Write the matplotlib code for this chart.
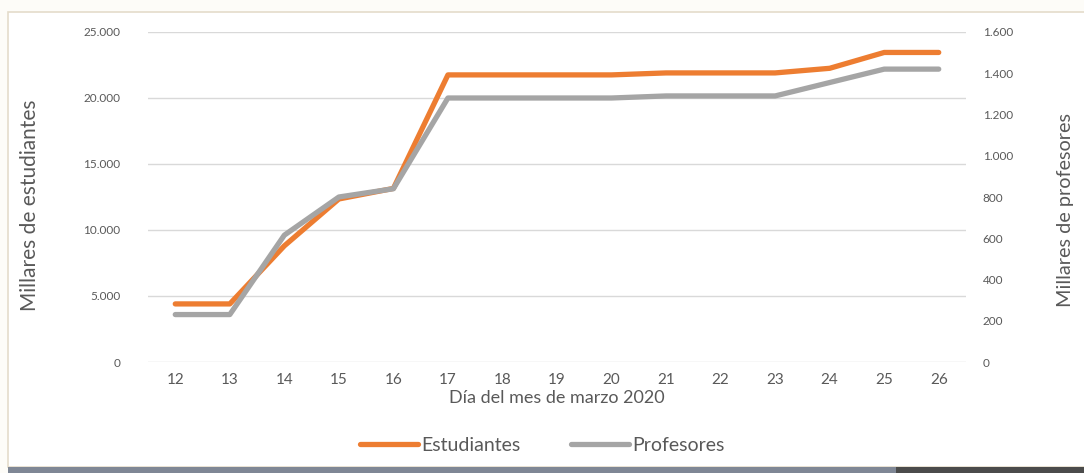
import numpy as np
from matplotlib import pyplot as plt
import matplotlib.ticker as mtick
from matplotlib.patches import Rectangle

plt.rcParams['font.family'] = ['Lato', 'DejaVu Sans']

# data
dias = [12, 13, 14, 15, 16, 17, 18, 19, 20, 21, 22, 23, 24, 25, 26]
estudiantes = [4400, 4400, 8800, 12350, 13150, 21750, 21750, 21750, 21750, 21900,
               21900, 21900, 22250, 23450, 23450]
profesores = [230, 230, 615, 800, 840, 1280, 1280, 1280, 1280, 1290,
              1290, 1290, 1355, 1420, 1420]

naranja = '#ED7D31'
gris = '#A5A5A5'
texto = '#595959'


def miles(v, pos):
    return '{:,.0f}'.format(v).replace(',', '.')


fig = plt.figure(figsize=(10.84, 4.73), dpi=100)
fig.patch.set_facecolor('#fdfcf8')

# frame and bottom bar
fig.patches.append(Rectangle((8 / 1084, 6 / 473), 1.0, 455 / 473, transform=fig.transFigure,
                             facecolor='white', edgecolor='#e4dccb', linewidth=1.2, zorder=-5))
fig.patches.append(Rectangle((8 / 1084, 0), 888 / 1084, 6 / 473, transform=fig.transFigure,
                             facecolor='#7f8795', edgecolor='none', zorder=-4))
fig.patches.append(Rectangle((896 / 1084, 0), 188 / 1084, 6 / 473, transform=fig.transFigure,
                             facecolor='#4b4b4b', edgecolor='none', zorder=-4))

ax = fig.add_axes([148 / 1084, 1 - 362 / 473, 818 / 1084, 330 / 473])
ax2 = ax.twinx()

x = np.arange(len(dias))
l1, = ax.plot(x, estudiantes, color=naranja, lw=3.8, solid_capstyle='round', zorder=3,
              label='Estudiantes')
l2, = ax2.plot(x, profesores, color=gris, lw=3.8, solid_capstyle='round', zorder=3,
               label='Profesores')

ax.set_xlim(-0.5, len(dias) - 0.5)
ax.set_ylim(0, 25000)
ax2.set_ylim(0, 1600)
ax.set_yticks(np.arange(0, 25001, 5000))
ax2.set_yticks(np.arange(0, 1601, 200))
ax.set_xticks(x)
ax.set_xticklabels([str(d) for d in dias])
ax.yaxis.set_major_formatter(mtick.FuncFormatter(miles))
ax2.yaxis.set_major_formatter(mtick.FuncFormatter(miles))

ax.grid(axis='y', color='#d9d9d9', lw=1)
ax.set_axisbelow(True)
for a in (ax, ax2):
    for s in a.spines.values():
        s.set_visible(False)
    a.tick_params(length=0, colors=texto)
ax.tick_params(axis='y', labelsize=8.5, pad=20)
ax2.tick_params(axis='y', labelsize=8.5, pad=12)
ax.tick_params(axis='x', labelsize=11, pad=8)

ax.set_xlabel('Día del mes de marzo 2020', fontsize=13, color=texto, labelpad=2)
ax.set_ylabel('Millares de estudiantes', fontsize=15, color=texto)
ax2.set_ylabel('Millares de profesores', fontsize=14.3, color=texto)
ax.yaxis.set_label_coords(-0.132, 0.475)
ax2.yaxis.set_label_coords(1.111, 0.46)

fig.legend(handles=[l1, l2], loc='center', bbox_to_anchor=(542 / 1084, 1 - 445 / 473),
           ncol=2, frameon=False, fontsize=14, labelcolor=texto, handlelength=3.0,
           handletextpad=0.15, columnspacing=2.6)

plt.savefig('out.png', dpi=100, facecolor=fig.get_facecolor())
